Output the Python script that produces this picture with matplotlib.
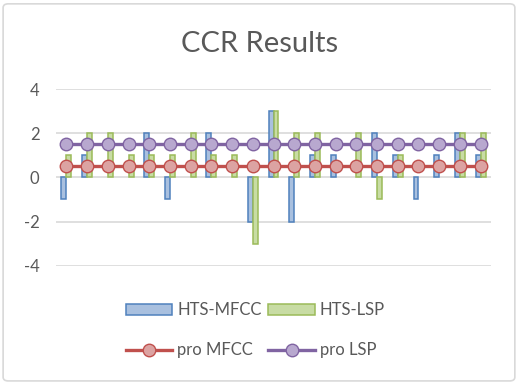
import numpy as np
import matplotlib
matplotlib.use("Agg")
import matplotlib.pyplot as plt
from matplotlib.patches import FancyBboxPatch

# -----------------------------
# DATA
# -----------------------------

categories = list(range(1, 22))
hts_mfcc = [-1, 1, 0, 0, 2, -1, 0, 2, 0, -2, 3, -2, 1, 1, 0, 2, 1, -1, 1, 2, 1]
hts_lsp = [1, 2, 2, 1, 1, 1, 2, 1, 1, -3, 3, 2, 2, 0, 2, -1, 1, 0, 0, 2, 2]
pro_mfcc = [0.5] * 21
pro_lsp = [1.5] * 21
y_ticks = [-4, -2, 0, 2, 4]

# -----------------------------
# FIGURE
# -----------------------------

plt.rcParams['font.family'] = ['Lato', 'DejaVu Sans']

fig = plt.figure(figsize=(5.19, 3.84), dpi=100)
fig.patches.append(FancyBboxPatch(
    (0.006, 0.008), 0.986, 0.982,
    boxstyle="round,pad=0,rounding_size=0.01",
    transform=fig.transFigure, facecolor='white',
    edgecolor='#d9d9d9', linewidth=1.2, zorder=-10
))

ax = fig.add_axes([0.108, 0.308, 0.838, 0.46])
ax.set_facecolor('none')

x = np.arange(len(categories))
w = 0.24

b1 = ax.bar(x - w / 2, hts_mfcc, width=w, color='#a9c0df',
            edgecolor='#4f81bd', linewidth=1.1, label='HTS-MFCC', zorder=2)
b2 = ax.bar(x + w / 2, hts_lsp, width=w, color='#c8dca4',
            edgecolor='#9bbb59', linewidth=1.1, label='HTS-LSP', zorder=2)

# zero bars are not drawn
for bars, vals in ((b1, hts_mfcc), (b2, hts_lsp)):
    for r, v in zip(bars, vals):
        if v == 0:
            r.set_visible(False)

l1, = ax.plot(x, pro_mfcc, color='#c0504d', linewidth=2.4, marker='o',
              markersize=9, markerfacecolor='#dca3a2', markeredgecolor='#c0504d',
              markeredgewidth=1, label='pro MFCC', zorder=3)
l2, = ax.plot(x, pro_lsp, color='#8064a2', linewidth=2.4, marker='o',
              markersize=9, markerfacecolor='#b8a8cf', markeredgecolor='#8064a2',
              markeredgewidth=1, label='pro LSP', zorder=3)

ax.set_xlim(-0.5, len(categories) - 0.5)
ax.set_ylim(-4, 4)
ax.set_yticks(y_ticks)
ax.set_yticklabels([str(t) for t in y_ticks], fontsize=12, color='#595959')
ax.set_xticks([])
ax.tick_params(axis='y', length=0, pad=12)
ax.grid(axis='y', color='#d9d9d9', linewidth=1.2, zorder=0)
ax.set_axisbelow(True)
for s in ax.spines.values():
    s.set_visible(False)

fig.text(0.5, 0.885, "CCR Results", ha='center', va='center',
         fontsize=21, color='#595959')

# column-first order so that bars sit on the first row
handles = [b1, l1, b2, l2]
labels = ['HTS-MFCC', 'pro MFCC', 'HTS-LSP', 'pro LSP']
leg = fig.legend(handles, labels,
                 ncol=2, loc='center', bbox_to_anchor=(0.492, 0.14),
                 frameon=False, fontsize=12, handlelength=2.8,
                 handleheight=0.65, columnspacing=0.4, handletextpad=0.3,
                 labelspacing=1.45)
for t in leg.get_texts():
    t.set_color('#595959')

fig.savefig("out.png", dpi=100)
